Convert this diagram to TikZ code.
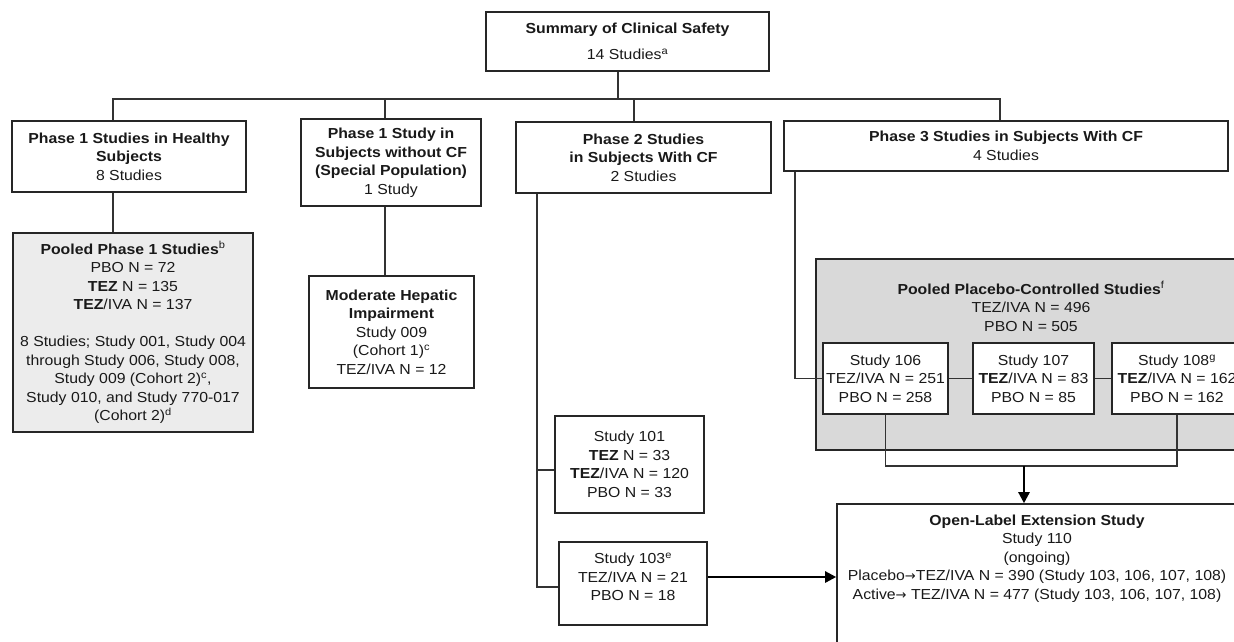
\documentclass[tikz,border=0pt]{standalone}
\usepackage{fontspec}
\setmainfont{Liberation Sans}[FakeStretch=1.09]
\newfontfamily\arrowfont{DejaVu Sans}
\newcommand{\rarr}{{\arrowfont\fontsize{13}{18.5}\selectfont →}}
\usetikzlibrary{arrows.meta}
\begin{document}
\begin{tikzpicture}[x=1pt,y=-1pt,
  every node/.style={font=\fontsize{14.5}{18.5}\selectfont, text=black!90},
  box/.style={draw=black!85, line width=1.6pt, fill=white, inner sep=0pt, align=center},
  graybox/.style={box, fill=gray!15},
  darkbox/.style={box, fill=gray!30},
  txt/.style={inner sep=0pt, align=center},
  conn/.style={draw=black!80, line width=1.2pt},
  bigarrow/.style={draw=black, line width=2.4pt, -{Triangle[length=11pt,width=11pt]}}
]
\useasboundingbox (0,0) rectangle (1234,641);
\clip (0,0) rectangle (1234,641);

% top level
\node[box, minimum width=283pt, minimum height=59pt] (top) at (627.5,41.5)
  {\textbf{Summary of Clinical Safety}\\[8pt]14 Studies\textsuperscript{a}};

% second level
\node[box, minimum width=234pt, minimum height=71pt] (p1h) at (129,156.5)
  {\textbf{Phase 1 Studies in Healthy}\\\textbf{Subjects}\\8 Studies};
\node[box, minimum width=180pt, minimum height=87pt] (p1s) at (391,162.5)
  {\textbf{Phase 1 Study in}\\\textbf{Subjects without CF}\\\textbf{(Special Population)}\\1 Study};
\node[box, minimum width=255pt, minimum height=71pt] (p2) at (643.5,157.5)
  {\textbf{Phase 2 Studies}\\\textbf{in Subjects With CF}\\2 Studies};
\node[box, minimum width=444pt, minimum height=50pt] (p3) at (1006,146)
  {\textbf{Phase 3 Studies in Subjects With CF}\\4 Studies};

% third level
\node[graybox, minimum width=240pt, minimum height=199pt] (pool1) at (133,332.5)
  {\textbf{Pooled Phase 1 Studies}\textsuperscript{b}\\PBO N = 72\\\textbf{TEZ} N = 135\\\textbf{TEZ}/IVA N = 137\\[18.5pt]
   8 Studies; Study 001, Study 004\\through Study 006, Study 008,\\Study 009 (Cohort 2)\textsuperscript{c},\\Study 010, and Study 770-017\\(Cohort 2)\textsuperscript{d}};
\node[box, minimum width=165pt, minimum height=112pt] (hep) at (391.5,332)
  {\textbf{Moderate Hepatic}\\\textbf{Impairment}\\Study 009\\(Cohort 1)\textsuperscript{c}\\TEZ/IVA N = 12};

\node[box, minimum width=149pt, minimum height=97pt] (s101) at (629.5,464.5)
  {Study 101\\\textbf{TEZ} N = 33\\\textbf{TEZ}/IVA N = 120\\PBO N = 33};
\node[box, minimum width=148pt, minimum height=83pt] (s103) at (633,583.5) {};
\node[txt] (s103t) at (633,577) {Study 103\textsuperscript{e}\\TEZ/IVA N = 21\\PBO N = 18};

% pooled placebo-controlled
\node[darkbox, minimum width=430pt, minimum height=191pt] (ppool) at (1031,354.5) {};
\node[txt] (ppoolt) at (1031,306.5)
  {\textbf{Pooled Placebo-Controlled Studies}\textsuperscript{f}\\TEZ/IVA N = 496\\PBO N = 505};
\node[box, minimum width=125pt, minimum height=71pt] (s106) at (885.5,378.5)
  {Study 106\\TEZ/IVA N = 251\\PBO N = 258};
\node[box, minimum width=121pt, minimum height=71pt] (s107) at (1033.5,378.5)
  {Study 107\\\textbf{TEZ}/IVA N = 83\\PBO N = 85};
\node[box, minimum width=130pt, minimum height=71pt] (s108) at (1177,378.5)
  {Study 108\textsuperscript{g}\\\textbf{TEZ}/IVA N = 162\\PBO N = 162};

% open label extension
\node[box, minimum width=400pt, minimum height=176pt] (ole) at (1037,592) {};
\node[txt] (olet) at (1037,558.5)
  {\textbf{Open-Label Extension Study}\\Study 110\\(ongoing)\\Placebo\rarr TEZ/IVA N = 390 (Study 103, 106, 107, 108)\\Active\rarr\ TEZ/IVA N = 477 (Study 103, 106, 107, 108)};

% connector coordinates
\coordinate (xa) at (618,99);
\coordinate (hl) at (113,99);
\coordinate (hr) at (1000,99);
\coordinate (c1) at (385,99);
\coordinate (c2) at (634,99);
\coordinate (v2) at (537,470);
\coordinate (v2b) at (537,587);
\coordinate (v3) at (795,378);
\coordinate (bk) at (0,466);
\coordinate (am) at (1024,466);

% connectors
\draw[conn] (top.south -| xa) -- (xa);
\draw[conn] (hl |- p1h.north) -- (hl) -- (hr) -- (hr |- p3.north);
\draw[conn] (c1) -- (c1 |- p1s.north);
\draw[conn] (c2) -- (c2 |- p2.north);
\draw[conn] (hl |- p1h.south) -- (hl |- pool1.north);
\draw[conn] (c1 |- p1s.south) -- (c1 |- hep.north);
\draw[conn] (v2 |- p2.south) -- (v2b) -- (v2b -| s103.west);
\draw[conn] (v2) -- (v2 -| s101.west);
\draw[conn] (v3 |- p3.south) -- (v3 |- s106.west) -- (s106.west);
\draw[conn] (s106.east) -- (s107.west);
\draw[conn] (s107.east) -- (s108.west);
\draw[conn] (s106.south) -- (s106.south |- bk) -- (s108.south |- bk) -- (s108.south);
\draw[bigarrow] (am) -- (am |- ole.north);
\draw[bigarrow] (s103t -| s103.east) -- (s103t -| ole.west);
\end{tikzpicture}
\end{document}
